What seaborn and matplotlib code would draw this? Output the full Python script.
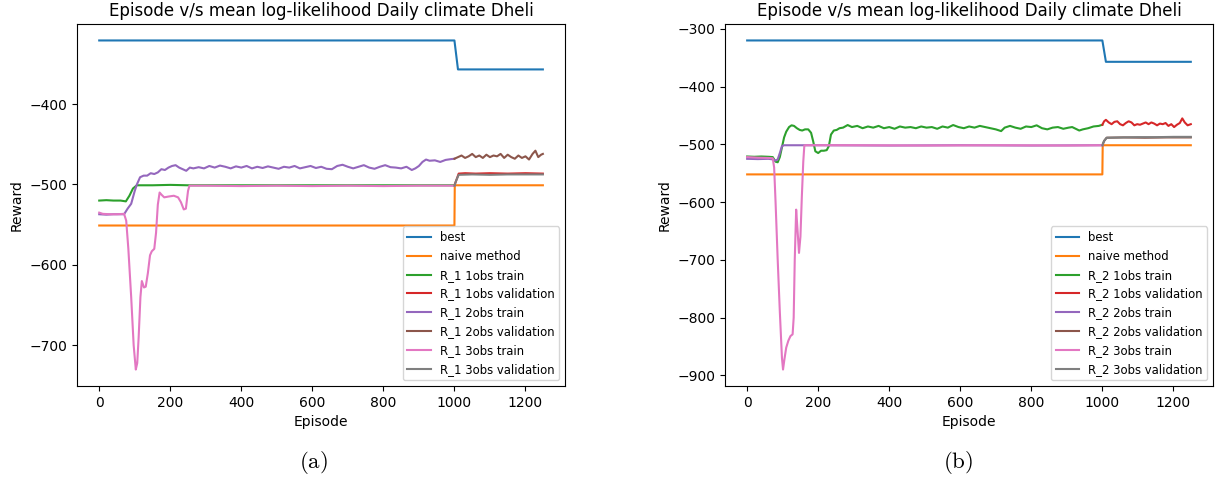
import matplotlib
matplotlib.use("Agg")
import matplotlib.pyplot as plt
from matplotlib.ticker import MultipleLocator
import seaborn as sns

TITLE = "Episode v/s mean log-likelihood Daily climate Dheli"
COLORS = ["#1f77b4", "#ff7f0e", "#2ca02c", "#d62728",
          "#9467bd", "#8c564b", "#e377c2", "#7f7f7f"]

# ---------------- panel (a): R_1 ----------------
a_best_ep = [0, 1000, 1010, 1249]
a_best = [-321, -321, -357, -357]

a_naive_ep = [0, 1000, 1001, 1249]
a_naive = [-551, -551, -501, -501]

a_1obs_train_ep = [0, 20, 40, 60, 75, 85, 95, 106, 150, 200, 250, 1000]
a_1obs_train = [-520, -519.5, -520, -520, -521, -514, -505, -501, -501, -500.5, -501, -501]

a_1obs_val_ep = [1000, 1006, 1012, 1030, 1060, 1100, 1150, 1200, 1249]
a_1obs_val = [-501, -494, -486.5, -486, -486.5, -486, -486.5, -486, -486.5]

a_2obs_train_ep = [0, 20, 40, 60, 70, 80, 90, 100, 106, 115, 125, 135, 145, 155, 165,
                   175, 185, 195, 205, 215, 225, 235, 245, 255, 265, 280, 295, 310, 325,
                   340, 355, 370, 385, 400, 415, 430, 445, 460, 475, 490, 505, 520, 535,
                   550, 565, 580, 595, 610, 625, 640, 655, 670, 685, 700, 715, 730, 745,
                   760, 775, 790, 805, 820, 835, 850, 865, 880, 890, 900, 910, 920, 930,
                   945, 960, 975, 990, 1000]
a_2obs_train = [-537, -537.5, -537, -537, -537, -530, -524, -508, -500, -491, -489, -489,
                -486, -487, -485, -481, -482, -479, -477, -476, -479, -481, -483, -479,
                -480, -478.5, -480, -477, -479, -476.5, -478, -480, -477.5, -479, -477,
                -480, -478, -479.5, -477.5, -479, -480.5, -478, -479, -477, -480, -478.5,
                -477, -479.5, -478, -480.5, -481, -477, -475.5, -478, -480, -478, -476,
                -479, -480.5, -478, -476, -478.5, -479, -480, -478, -482, -480, -477,
                -472, -469, -470.5, -470, -472, -469.5, -468.5, -468]

a_2obs_val_ep = [1000, 1010, 1020, 1030, 1040, 1050, 1060, 1070, 1080, 1090, 1100, 1110,
                 1120, 1130, 1140, 1150, 1160, 1170, 1180, 1190, 1200, 1210, 1220, 1228,
                 1236, 1244, 1249]
a_2obs_val = [-468, -466, -464, -467, -465, -462, -466, -464, -467, -463, -466, -464,
              -465, -462, -467, -463, -466, -468, -464, -467, -465, -469, -462, -458,
              -466, -463, -462]

a_3obs_train_ep = [0, 10, 30, 50, 70, 76, 82, 90, 97, 103, 107, 111, 116, 120, 126, 131,
                   137, 143, 148, 155, 160, 165, 170, 176, 183, 195, 210, 222, 230, 238,
                   244, 250, 254, 300, 400, 500, 600, 700, 800, 900, 1000]
a_3obs_train = [-535, -536.5, -537, -537, -536.5, -545, -580, -640, -700, -730, -722, -690,
                -640, -620, -628, -627, -610, -588, -583, -580, -560, -525, -510, -513,
                -516, -515, -514, -516, -522, -531, -530, -508, -501.5, -501.5, -502,
                -501.5, -502, -501.5, -502, -501.5, -501.5]

a_3obs_val_ep = [1000, 1005, 1012, 1050, 1100, 1150, 1200, 1249]
a_3obs_val = [-501.5, -495, -488, -487.5, -488, -487.5, -487.5, -487.5]

# ---------------- panel (b): R_2 ----------------
b_best_ep = [0, 1000, 1010, 1249]
b_best = [-320, -320, -357, -357]

b_naive_ep = [0, 1000, 1001, 1249]
b_naive = [-552, -552, -501.5, -501.5]

b_1obs_train_ep = [0, 20, 40, 60, 72, 80, 86, 92, 98, 104, 110, 118, 125, 132, 140, 148,
                   155, 163, 172, 180, 186, 192, 200, 208, 216, 224, 230, 236, 244, 252,
                   260, 270, 283, 295, 310, 325, 340, 355, 370, 385, 400, 415, 430, 445,
                   460, 475, 490, 505, 520, 535, 550, 565, 580, 595, 610, 625, 640, 655,
                   670, 685, 700, 715, 725, 740, 755, 770, 785, 800, 815, 830, 845, 860,
                   875, 890, 905, 915, 925, 935, 945, 960, 975, 990, 1000]
b_1obs_train = [-521, -521.5, -521, -521.5, -522, -530, -531, -522, -505, -488, -478, -470,
                -467, -468, -472, -475, -476, -474, -474, -480, -495, -512, -515, -511,
                -511, -510, -503, -483, -476, -475, -472, -471, -466.5, -470, -468, -472,
                -469, -471, -468, -472, -470, -473, -469, -471, -470, -472, -469, -471,
                -470, -473, -469, -471, -466.5, -470, -472, -469, -471, -468, -470, -472,
                -474, -477, -471, -468, -471, -473, -469, -470, -467, -472, -474, -471,
                -470, -473, -471, -470, -473, -476, -474, -472, -469, -468, -466]

b_1obs_val_ep = [1000, 1005, 1010, 1018, 1026, 1034, 1042, 1050, 1058, 1066, 1074, 1082,
                 1090, 1098, 1106, 1114, 1122, 1130, 1138, 1146, 1154, 1162, 1170, 1178,
                 1186, 1194, 1202, 1210, 1218, 1225, 1232, 1240, 1249]
b_1obs_val = [-466, -460, -457.5, -462, -465, -461, -460, -465, -467, -463, -460, -462,
              -467, -465, -466, -464, -462, -465, -462, -464, -467, -464, -465, -463,
              -468, -465, -470, -466, -463, -455, -462, -467, -465]

b_2obs_train_ep = [0, 30, 60, 72, 80, 86, 92, 98, 104, 200, 400, 600, 800, 1000]
b_2obs_train = [-525, -525.5, -525, -526, -528, -526, -515, -503, -501.5, -501.5, -502,
                -501.5, -502, -501.5]

b_2obs_val_ep = [1000, 1005, 1012, 1060, 1120, 1180, 1249]
b_2obs_val = [-501.5, -494, -488.5, -488, -488.5, -488, -488]

b_3obs_train_ep = [0, 30, 60, 72, 76, 80, 86, 92, 98, 101, 105, 110, 116, 122, 128, 131,
                   134, 138, 142, 146, 150, 154, 158, 161, 165, 300, 500, 700, 900, 1000]
b_3obs_train = [-522, -523, -523.5, -524, -540, -600, -700, -790, -870, -890, -872, -852,
                -840, -832, -829, -800, -700, -613, -650, -688, -660, -590, -530, -502,
                -501.5, -501.5, -502, -501.5, -502, -501.5]

b_3obs_val_ep = [1000, 1005, 1012, 1050, 1100, 1150, 1200, 1249]
b_3obs_val = [-501.5, -494, -488.5, -488, -487.5, -487.5, -487, -487]


def draw_panel(ax, tag, series):
    names = ["best", "naive method",
             f"{tag} 1obs train", f"{tag} 1obs validation",
             f"{tag} 2obs train", f"{tag} 2obs validation",
             f"{tag} 3obs train", f"{tag} 3obs validation"]
    for (ep, val), name, col in zip(series, names, COLORS):
        sns.lineplot(x=ep, y=val, ax=ax, color=col, label=name, linewidth=1.5)
    ax.set_title(TITLE, fontsize=12)
    ax.set_xlabel("Episode", fontsize=10)
    ax.set_ylabel("Reward", fontsize=10)
    ax.yaxis.set_major_locator(MultipleLocator(100))
    ax.tick_params(labelsize=10)
    ax.legend(loc="lower right", fontsize="small")


fig = plt.figure(figsize=(12.17, 4.82), dpi=100)
ax_a = fig.add_axes([0.0633, 0.1992, 0.401, 0.751])
ax_b = fig.add_axes([0.5957, 0.1992, 0.401, 0.751])

draw_panel(ax_a, "R_1", [
    (a_best_ep, a_best), (a_naive_ep, a_naive),
    (a_1obs_train_ep, a_1obs_train), (a_1obs_val_ep, a_1obs_val),
    (a_2obs_train_ep, a_2obs_train), (a_2obs_val_ep, a_2obs_val),
    (a_3obs_train_ep, a_3obs_train), (a_3obs_val_ep, a_3obs_val),
])
draw_panel(ax_b, "R_2", [
    (b_best_ep, b_best), (b_naive_ep, b_naive),
    (b_1obs_train_ep, b_1obs_train), (b_1obs_val_ep, b_1obs_val),
    (b_2obs_train_ep, b_2obs_train), (b_2obs_val_ep, b_2obs_val),
    (b_3obs_train_ep, b_3obs_train), (b_3obs_val_ep, b_3obs_val),
])

fig.text(313 / 1217, 1 - 463 / 482, r"$(\mathrm{a})$", fontsize=16.5,
         math_fontfamily="cm", ha="center", va="center")
fig.text(958 / 1217, 1 - 463 / 482, r"$(\mathrm{b})$", fontsize=16.5,
         math_fontfamily="cm", ha="center", va="center")

fig.savefig("out.png", dpi=100)
